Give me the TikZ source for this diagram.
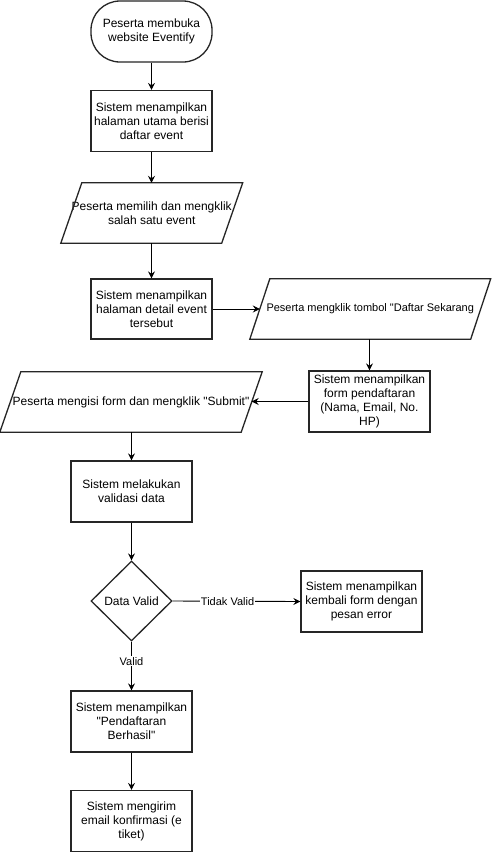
\documentclass[tikz,border=0pt]{standalone}
\usepackage{fontspec}
\setmainfont{Liberation Sans}[Ligatures=TeXOff]
\usetikzlibrary{arrows.meta,shapes.geometric}
\newcommand{\parashape}[2]{%
  \draw[shapeline] ([xshift=#2pt]#1.north west) -- ([xshift=#2pt]#1.north east)
    -- ([xshift=-#2pt]#1.south east) -- ([xshift=-#2pt]#1.south west) -- cycle;}
\tikzset{
  shapeline/.style={draw=black!85, line width=1.3pt},
  base/.style={align=center, inner sep=0pt, font=\fontsize{12}{14}\selectfont, text=black},
  procbox/.style={base, shapeline, minimum width=121pt, minimum height=61pt},
  termbox/.style={base, shapeline, minimum width=121pt, minimum height=61pt, rounded corners=29pt},
  parabox/.style={base, draw=none, minimum height=60pt},
  decbox/.style={base, shapeline, diamond, minimum width=81pt, minimum height=80pt},
  flow/.style={draw=black, line width=0.9pt, -{Stealth[length=7pt,width=7pt,inset=2.5pt]}},
  edgelabel/.style={font=\fontsize{11}{13}\selectfont, fill=white, inner sep=1pt, text=black}
}
\begin{document}
\begin{tikzpicture}[x=1pt,y=-1pt]
\useasboundingbox (0,0) rectangle (491,852);
\fill[white] (0,0) rectangle (491,852);

\node[termbox] (start) at (151.5,31.5) {Peserta membuka\\website Eventify};
\node[procbox] (b1) at (151.5,121) {Sistem menampilkan\\halaman utama berisi\\daftar event};
\node[parabox, minimum width=160.5pt] (p1) at (151.75,213) {Peserta memilih dan mengklik\\salah satu event};
\parashape{p1}{10.5}
\node[procbox, minimum height=60pt] (b2) at (151.5,309) {Sistem menampilkan\\halaman detail event\\tersebut};
\node[parabox, minimum width=220.5pt, font=\fontsize{11}{13}\selectfont] (p2) at (370.25,309) {Peserta mengklik tombol "Daftar Sekarang};
\parashape{p2}{10}
\node[procbox] (b3) at (369.5,401.5) {Sistem menampilkan\\form pendaftaran\\(Nama, Email, No.\\HP)};
\node[parabox, minimum width=241pt] (p3) at (131,402) {Peserta mengisi form dan mengklik "Submit"};
\parashape{p3}{10.5}
\node[procbox] (b4) at (131.5,491.5) {Sistem melakukan\\validasi data};
\node[decbox] (d) at (131.5,601) {Data Valid};
\node[procbox] (e) at (361.5,601.5) {Sistem menampilkan\\kembali form dengan\\pesan error};
\node[procbox] (b5) at (131.5,721.5) {Sistem menampilkan\\"Pendaftaran\\Berhasil"};
\node[procbox] (b6) at (131.5,821) {Sistem mengirim\\email konfirmasi (e\\tiket)};

\draw[flow] (start.south) -- (b1.north);
\draw[flow] (b1.south) -- (b1.south |- p1.north);
\draw[flow] (b2.north |- p1.south) -- (b2.north);
\draw[flow] (b2.east) -- (p2.west);
\draw[flow] (b3.north |- p2.south) -- (b3.north);
\draw[flow] (b3.west) -- (p3.east |- b3.west);
\draw[flow] (b4.north |- p3.south) -- (b4.north);
\draw[flow] (b4.south) -- (d.north);
\draw[flow] (d.east) -- node[edgelabel, pos=0.43] (lt) {Tidak Valid} (e.west);
\draw[flow] (d.south) -- node[edgelabel, pos=0.4] (lv) {Valid} (b5.north);
\draw[flow] (b5.south) -- (b6.north);
\end{tikzpicture}
\end{document}
